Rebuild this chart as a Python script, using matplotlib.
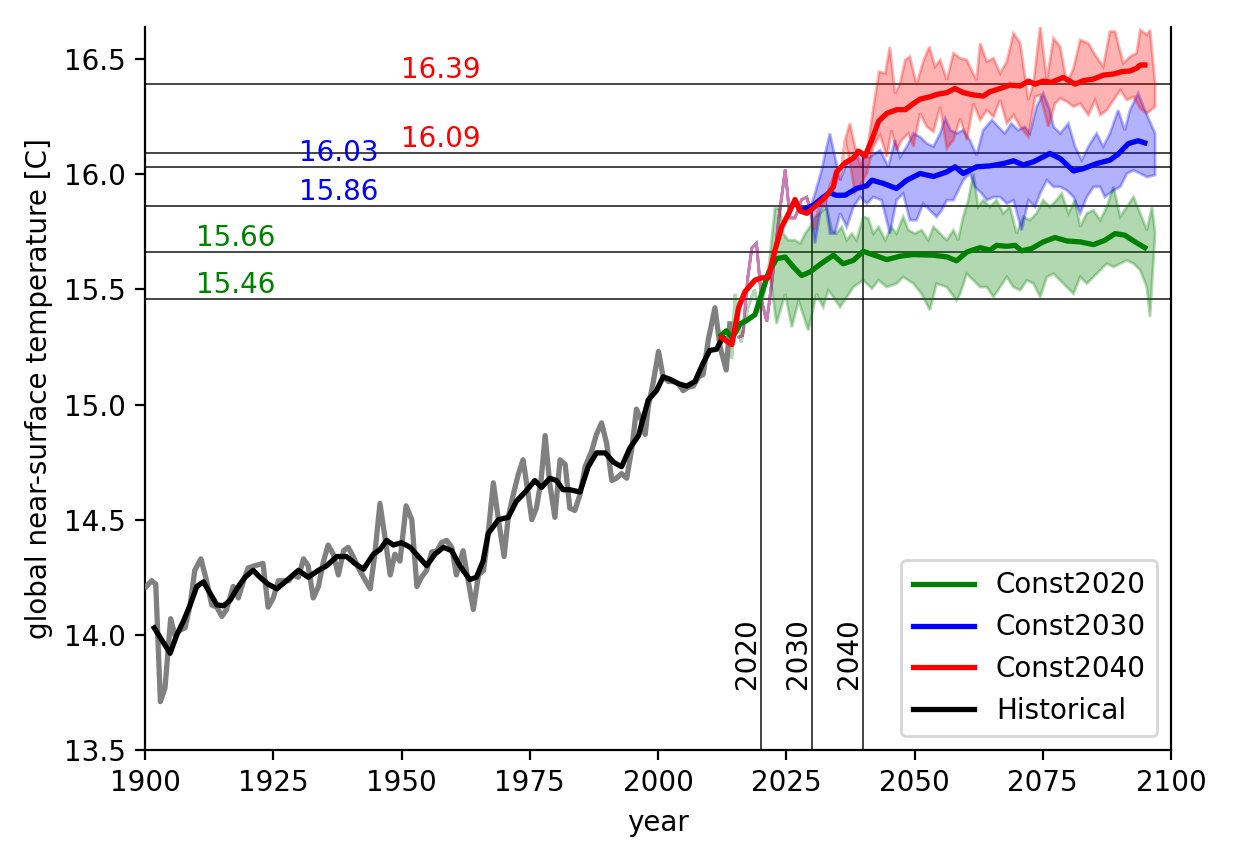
import numpy as np
import matplotlib
matplotlib.use("Agg")
import matplotlib.pyplot as plt

# ---------------- data ----------------
hist_annual_x = [1900.3, 1901.3, 1902.1, 1903.0, 1903.9, 1905.0, 1905.8, 1906.8, 1907.8, 1908.8,
                 1909.7, 1910.9, 1912.0, 1913.0, 1914.0, 1915.0, 1915.9, 1917.2, 1918.2, 1919.2,
                 1920.1, 1921.4, 1923.0, 1924.0, 1925.0, 1926.0, 1927.0, 1928.0, 1928.9, 1929.9,
                 1930.9, 1931.8, 1932.8, 1933.8, 1934.8, 1935.7, 1936.7, 1937.7, 1938.7, 1939.6,
                 1940.6, 1941.6, 1942.6, 1943.9, 1944.8, 1945.8, 1946.8, 1947.8, 1948.7, 1949.7,
                 1950.9, 1952.0, 1953.0, 1953.9, 1954.9, 1955.9, 1956.9, 1957.8, 1958.8, 1959.8,
                 1960.7, 1962.0, 1963.0, 1964.0, 1965.0, 1966.0, 1966.9, 1967.9, 1968.9, 1970.0,
                 1970.8, 1971.8, 1972.8, 1973.7, 1974.7, 1975.4, 1976.3, 1977.2, 1978.0, 1978.9,
                 1979.9, 1980.9, 1981.9, 1982.8, 1983.8, 1984.8, 1985.8, 1987.1, 1988.0, 1989.0,
                 1990.0, 1991.0, 1991.9, 1992.9, 1993.9, 1994.9, 1995.8, 1996.8, 1997.5, 1998.1,
                 1999.1, 2000.1, 2001.0, 2002.0, 2003.0, 2004.0, 2004.9, 2005.9, 2006.9, 2007.9,
                 2008.8, 2009.8, 2011.1, 2012.1, 2013.3, 2014.0]
hist_annual_y = [14.21, 14.235, 14.22, 13.71, 13.77, 14.07, 14.00, 14.02, 14.03, 14.13,
                 14.28, 14.33, 14.235, 14.13, 14.12, 14.08, 14.11, 14.21, 14.16, 14.235,
                 14.29, 14.30, 14.31, 14.12, 14.16, 14.235, 14.235, 14.235, 14.26, 14.25,
                 14.33, 14.30, 14.16, 14.21, 14.32, 14.39, 14.35, 14.26, 14.365, 14.38,
                 14.34, 14.29, 14.25, 14.20, 14.35, 14.57, 14.42, 14.26, 14.35, 14.32,
                 14.56, 14.50, 14.21, 14.25, 14.28, 14.36, 14.365, 14.40, 14.41, 14.38,
                 14.26, 14.365, 14.235, 14.11, 14.26, 14.28, 14.44, 14.66, 14.50, 14.34,
                 14.51, 14.61, 14.70, 14.76, 14.61, 14.50, 14.55, 14.67, 14.865, 14.655,
                 14.51, 14.76, 14.74, 14.55, 14.54, 14.61, 14.73, 14.80, 14.87, 14.92,
                 14.83, 14.67, 14.68, 14.70, 14.68, 14.81, 14.98, 14.93, 14.87, 14.99,
                 15.10, 15.23, 15.12, 15.10, 15.10, 15.09, 15.06, 15.075, 15.08, 15.12,
                 15.13, 15.28, 15.42, 15.25, 15.15, 15.35]

hist_smooth_x = [1901.8, 1903.2, 1904.9, 1906.2, 1907.5, 1908.8, 1910.1, 1911.4, 1912.7, 1914.0,
                 1915.3, 1916.6, 1917.9, 1919.5, 1921.1, 1922.4, 1924.0, 1925.7, 1927.6, 1929.9,
                 1931.8, 1933.8, 1935.4, 1937.4, 1939.3, 1940.9, 1942.6, 1944.5, 1945.8, 1947.1,
                 1948.4, 1950.0, 1951.7, 1953.3, 1954.9, 1956.5, 1958.2, 1959.8, 1961.1, 1962.0,
                 1963.3, 1964.6, 1965.9, 1966.9, 1968.9, 1970.8, 1972.4, 1974.1, 1976.0, 1977.3,
                 1978.9, 1980.2, 1981.5, 1982.8, 1984.8, 1986.4, 1988.0, 1989.7, 1991.3, 1992.9,
                 1994.5, 1996.2, 1998.1, 1999.7, 2001.0, 2002.3, 2004.0, 2005.6, 2007.2, 2008.8,
                 2010.1, 2011.4, 2012.6]
hist_smooth_y = [14.03, 13.98, 13.92, 14.00, 14.06, 14.13, 14.21, 14.23, 14.18, 14.13,
                 14.126, 14.15, 14.20, 14.25, 14.28, 14.25, 14.22, 14.20, 14.235, 14.28,
                 14.25, 14.28, 14.30, 14.34, 14.34, 14.31, 14.285, 14.35, 14.37, 14.41,
                 14.39, 14.40, 14.38, 14.34, 14.30, 14.35, 14.38, 14.365, 14.31, 14.28,
                 14.24, 14.25, 14.32, 14.44, 14.50, 14.51, 14.58, 14.62, 14.67, 14.64,
                 14.68, 14.67, 14.63, 14.63, 14.62, 14.73, 14.79, 14.79, 14.75, 14.73,
                 14.81, 14.865, 15.02, 15.06, 15.12, 15.11, 15.09, 15.08, 15.10, 15.18,
                 15.235, 15.24, 15.29]

# shared single-member path of Const2030 / Const2040 before branching
shared_x = [2015.5, 2016.5, 2017.5, 2018.3, 2019.2, 2020.2, 2021.2, 2022.3, 2023.5, 2024.8,
            2025.7, 2026.7, 2028.0, 2029.0, 2029.6]
shared_y = [15.29, 15.30, 15.55, 15.68, 15.70, 15.45, 15.36, 15.55, 15.80, 16.02,
            15.81, 15.81, 15.89, 15.90, 15.85]

# Const2020
c20_single_x = [2012.8, 2013.6, 2014.4, 2015.0, 2016.2, 2017.5, 2018.8, 2019.8, 2020.8, 2021.6]
c20_single_y = [15.30, 15.33, 15.20, 15.48, 15.27, 15.42, 15.50, 15.40, 15.50, 15.60]
c20_up_x = [2022.8, 2023.8, 2024.4, 2025.4, 2026.7, 2027.7, 2028.7, 2029.6, 2030.6, 2031.6,
            2032.9, 2033.9, 2034.8, 2035.8, 2036.8, 2037.8, 2038.7, 2040.0, 2041.0, 2042.0,
            2043.0, 2044.3, 2045.5, 2046.5, 2047.8, 2048.8, 2050.1, 2051.4, 2052.7, 2053.7,
            2055.0, 2056.3, 2057.6, 2058.5, 2059.5, 2060.5, 2061.5, 2062.4, 2063.4, 2064.7,
            2066.0, 2067.3, 2068.6, 2069.9, 2071.2, 2072.5, 2073.8, 2075.1, 2076.4, 2077.7,
            2078.7, 2080.0, 2081.3, 2082.3, 2083.6, 2084.9, 2086.2, 2087.5, 2088.8, 2090.1,
            2091.4, 2092.7, 2094.0, 2095.3, 2096.3, 2096.9]
c20_up_y = [15.851, 15.851, 15.742, 15.713, 15.713, 15.699, 15.742, 15.771, 15.815, 15.83,
            15.858, 15.757, 15.742, 15.771, 15.713, 15.742, 15.713, 15.815, 15.807, 15.742,
            15.771, 15.713, 15.771, 15.742, 15.815, 15.757, 15.742, 15.757, 15.713, 15.771,
            15.742, 15.713, 15.757, 15.713, 15.815, 15.887, 16.003, 15.858, 15.887, 15.858,
            15.887, 15.83, 15.858, 15.742, 15.815, 15.80, 15.83, 15.887, 15.858, 15.887,
            15.916, 15.83, 15.887, 15.771, 15.83, 15.843, 15.80, 15.858, 15.945, 15.815,
            15.858, 15.901, 15.83, 15.757, 15.858, 15.742]
c20_lo_x = [2023.1, 2024.8, 2026.1, 2027.4, 2029.3, 2030.9, 2032.2, 2033.2, 2034.2, 2035.5,
            2036.8, 2038.1, 2040.0, 2041.7, 2043.0, 2044.6, 2046.5, 2047.8, 2049.8, 2051.4,
            2053.0, 2054.3, 2056.3, 2058.2, 2058.9, 2060.2, 2061.5, 2062.8, 2064.1, 2065.4,
            2066.7, 2068.0, 2069.3, 2070.6, 2071.9, 2073.2, 2074.5, 2075.8, 2077.1, 2078.4,
            2079.7, 2081.0, 2082.3, 2083.6, 2084.9, 2086.2, 2087.5, 2088.8, 2090.1, 2091.4,
            2092.7, 2094.0, 2095.3, 2095.9]
c20_lo_y = [15.35, 15.48, 15.336, 15.452, 15.322, 15.48, 15.423, 15.496, 15.467, 15.423,
            15.467, 15.51, 15.54, 15.503, 15.54, 15.51, 15.525, 15.554, 15.525, 15.48,
            15.41, 15.525, 15.51, 15.452, 15.481, 15.568, 15.539, 15.51, 15.51, 15.467,
            15.51, 15.554, 15.51, 15.496, 15.539, 15.525, 15.467, 15.554, 15.568, 15.539,
            15.51, 15.481, 15.554, 15.525, 15.554, 15.583, 15.612, 15.597, 15.612, 15.626,
            15.612, 15.583, 15.51, 15.38]
c20_mean_x = [2012.3, 2013.3, 2014.5, 2016.0, 2017.3, 2018.9, 2020.2, 2021.5, 2023.1, 2024.8,
              2026.4, 2028.0, 2029.6, 2032.2, 2034.2, 2036.1, 2038.1, 2040.0, 2042.6, 2044.6,
              2047.2, 2049.8, 2053.7, 2056.3, 2058.2, 2060.2, 2062.8, 2064.7, 2066.0, 2068.0,
              2069.6, 2070.9, 2072.8, 2075.1, 2077.4, 2079.7, 2082.3, 2084.9, 2087.1, 2089.1,
              2091.0, 2093.0, 2094.9]
c20_mean_y = [15.30, 15.32, 15.29, 15.35, 15.365, 15.39, 15.48, 15.57, 15.633, 15.64,
              15.597, 15.56, 15.575, 15.618, 15.648, 15.611, 15.626, 15.665, 15.645, 15.629,
              15.644, 15.651, 15.648, 15.641, 15.624, 15.662, 15.681, 15.67, 15.691, 15.687,
              15.691, 15.667, 15.677, 15.706, 15.725, 15.71, 15.706, 15.694, 15.713, 15.742,
              15.735, 15.706, 15.681]

# Const2030
c30_up_x = [2030.6, 2031.9, 2032.6, 2033.5, 2034.5, 2035.5, 2036.8, 2037.8, 2038.7, 2040.0,
            2041.3, 2043.3, 2044.9, 2046.2, 2047.2, 2048.5, 2049.8, 2051.1, 2052.4, 2053.7,
            2055.0, 2056.0, 2057.0, 2058.2, 2059.5, 2060.8, 2062.1, 2063.4, 2065.1, 2066.3,
            2067.6, 2068.9, 2070.2, 2071.5, 2072.5, 2073.8, 2075.1, 2076.4, 2077.1, 2078.4,
            2080.0, 2081.3, 2082.6, 2083.9, 2085.5, 2086.8, 2088.1, 2089.7, 2091.0, 2092.0,
            2093.6, 2094.9, 2096.9]
c30_up_y = [15.916, 16.017, 16.09, 16.177, 16.075, 15.974, 16.046, 16.061, 16.104, 16.075,
            16.075, 16.104, 16.032, 16.148, 16.075, 16.12, 16.177, 16.162, 16.133, 16.12,
            16.177, 16.242, 16.191, 16.177, 16.191, 16.148, 16.082, 16.191, 16.235, 16.206,
            16.177, 16.22, 16.191, 16.206, 16.177, 16.293, 16.351, 16.278, 16.206, 16.177,
            16.22, 16.12, 16.061, 16.12, 16.177, 16.12, 16.177, 16.278, 16.191, 16.278,
            16.351, 16.278, 16.177]
c30_lo_x = [2030.6, 2031.6, 2032.6, 2033.5, 2034.5, 2035.5, 2036.8, 2038.1, 2039.4, 2040.7,
            2042.0, 2043.6, 2045.2, 2046.5, 2047.8, 2049.1, 2050.4, 2051.7, 2053.0, 2054.3,
            2055.3, 2056.3, 2057.6, 2059.5, 2060.8, 2061.8, 2063.1, 2064.1, 2065.4, 2066.7,
            2068.0, 2069.3, 2070.9, 2072.2, 2073.5, 2074.5, 2075.8, 2077.1, 2078.4, 2079.7,
            2081.0, 2082.3, 2083.6, 2084.9, 2086.2, 2087.1, 2088.8, 2090.1, 2091.4, 2092.7,
            2094.0, 2095.3, 2096.9]
c30_lo_y = [15.699, 15.83, 15.887, 15.742, 15.742, 15.83, 15.771, 15.858, 15.901, 15.872,
            15.901, 15.887, 15.742, 15.887, 15.916, 15.80, 15.80, 15.872, 15.843, 15.814,
            15.843, 15.887, 15.887, 15.974, 16.003, 15.945, 15.916, 15.887, 15.901, 15.901,
            15.872, 15.887, 15.757, 15.887, 15.858, 15.916, 15.974, 15.945, 15.945, 15.93,
            15.901, 15.83, 15.901, 15.945, 15.945, 15.901, 15.93, 15.945, 16.003, 16.017,
            16.003, 15.988, 15.996]
c30_mean_x = [2028.3, 2030.3, 2032.2, 2033.5, 2034.8, 2036.5, 2038.7, 2040.7, 2041.7, 2043.9,
              2046.5, 2048.5, 2051.1, 2053.7, 2056.3, 2057.9, 2059.5, 2062.1, 2064.7, 2067.3,
              2069.3, 2071.2, 2073.2, 2076.4, 2078.4, 2081.0, 2082.9, 2085.5, 2088.1, 2089.7,
              2091.7, 2093.6, 2094.9]
c30_mean_y = [15.846, 15.865, 15.90, 15.919, 15.908, 15.909, 15.938, 15.95, 15.974, 15.96,
              15.938, 15.974, 16.003, 15.99, 16.01, 16.032, 16.003, 16.032, 16.036, 16.046,
              16.058, 16.04, 16.054, 16.09, 16.068, 16.014, 16.024, 16.046, 16.061, 16.087,
              16.133, 16.145, 16.136]

# Const2040
c40_single_x = [2030.5, 2031.5, 2032.5, 2033.5, 2034.5, 2035.5, 2036.5]
c40_single_y = [15.76, 15.87, 15.86, 15.95, 16.00, 15.98, 16.15]
c40_up_x = [2037.4, 2038.4, 2039.4, 2040.7, 2042.0, 2043.1, 2044.3, 2045.2, 2046.2, 2047.2,
            2048.2, 2049.1, 2050.4, 2051.7, 2052.9, 2054.0, 2055.0, 2056.3, 2057.6, 2058.9,
            2060.2, 2061.1, 2062.1, 2062.8, 2064.1, 2065.4, 2066.7, 2068.0, 2069.3, 2070.6,
            2072.2, 2073.2, 2074.5, 2075.8, 2077.1, 2078.4, 2079.7, 2081.0, 2082.3, 2083.9,
            2085.2, 2086.8, 2088.1, 2089.1, 2090.7, 2092.0, 2093.3, 2094.0, 2095.3, 2095.9,
            2096.9]
c40_up_y = [16.22, 16.12, 16.04, 16.09, 16.29, 16.445, 16.437, 16.553, 16.35, 16.394,
            16.496, 16.51, 16.387, 16.489, 16.553, 16.467, 16.496, 16.409, 16.525, 16.503,
            16.496, 16.452, 16.409, 16.568, 16.489, 16.503, 16.438, 16.489, 16.612, 16.568,
            16.322, 16.394, 16.641, 16.409, 16.59, 16.553, 16.394, 16.459, 16.583, 16.568,
            16.517, 16.467, 16.619, 16.619, 16.481, 16.51, 16.525, 16.626, 16.605, 16.626,
            16.394]
c40_lo_x = [2037.4, 2038.4, 2039.4, 2040.7, 2042.0, 2043.3, 2044.6, 2045.5, 2046.5, 2047.5,
            2048.8, 2049.8, 2051.1, 2052.4, 2053.7, 2055.0, 2056.3, 2057.6, 2058.9, 2060.2,
            2061.5, 2062.8, 2064.1, 2065.4, 2066.7, 2068.0, 2069.3, 2070.6, 2072.2, 2073.5,
            2074.5, 2076.1, 2077.4, 2078.4, 2079.7, 2081.0, 2082.3, 2083.9, 2085.2, 2086.2,
            2087.5, 2088.8, 2090.1, 2091.4, 2092.7, 2094.0, 2095.3, 2096.9]
c40_lo_y = [16.05, 15.92, 15.95, 16.003, 16.12, 16.17, 16.075, 16.19, 16.104, 16.148,
            16.177, 16.12, 16.264, 16.206, 16.184, 16.293, 16.112, 16.148, 16.242, 16.148,
            16.307, 16.235, 16.278, 16.249, 16.322, 16.22, 16.257, 16.206, 16.162, 16.336,
            16.344, 16.206, 16.307, 16.329, 16.315, 16.293, 16.307, 16.257, 16.322, 16.257,
            16.278, 16.322, 16.365, 16.322, 16.336, 16.285, 16.264, 16.293]
c40_mean_x = [2012.4, 2014.4, 2015.7, 2016.95, 2018.9, 2020.2, 2021.5, 2022.8, 2024.1, 2025.7,
              2026.7, 2027.7, 2029.0, 2030.6, 2032.6, 2034.2, 2034.8, 2036.5, 2038.1, 2039.1,
              2040.4, 2041.7, 2043.0, 2044.6, 2046.5, 2048.2, 2049.8, 2051.1, 2053.0, 2054.3,
              2056.3, 2057.9, 2059.5, 2061.5, 2063.4, 2064.7, 2066.7, 2068.6, 2070.6, 2072.2,
              2073.5, 2075.1, 2076.7, 2079.0, 2081.3, 2082.9, 2084.9, 2086.8, 2088.8, 2090.4,
              2092.0, 2093.3, 2094.0, 2094.9]
c40_mean_y = [15.29, 15.26, 15.42, 15.49, 15.54, 15.55, 15.55, 15.67, 15.77, 15.84,
              15.89, 15.84, 15.83, 15.86, 15.90, 15.945, 16.01, 16.05, 16.07, 16.10,
              16.08, 16.15, 16.23, 16.264, 16.28, 16.28, 16.307, 16.326, 16.336, 16.346,
              16.354, 16.372, 16.354, 16.344, 16.339, 16.358, 16.372, 16.387, 16.383, 16.404,
              16.391, 16.404, 16.399, 16.42, 16.391, 16.406, 16.413, 16.43, 16.435, 16.445,
              16.448, 16.46, 16.474, 16.474]

# reference levels: (value, label x, colour)
level_values = [16.39, 16.09, 16.03, 15.86, 15.66, 15.46]
level_label_x = [1950, 1950, 1930, 1930, 1910, 1910]
level_colors = ["red", "red", "blue", "blue", "green", "green"]

const_years = [2020, 2030, 2040]
const_levels = [15.46, 15.86, 16.09]

series_names = ["Const2020", "Const2030", "Const2040", "Historical"]

# ---------------- figure ----------------
plt.rcParams["font.family"] = ["DejaVu Sans"]
plt.rcParams["font.size"] = 10

fig = plt.figure(figsize=(6.18, 4.24), dpi=200)
ax = fig.add_axes([145 / 1236, 98 / 848, 1026 / 1236, 723 / 848])

ymin, ymax = 13.5, 16.639
ax.set_xlim(1900, 2100)
ax.set_ylim(ymin, ymax)

LW = 1.9

# horizontal reference lines
for v in level_values:
    ax.axhline(v, color="k", lw=0.6, alpha=0.85, zorder=1)
for v, x, c in zip(level_values, level_label_x, level_colors):
    ax.text(x, v, f"{v:.2f}", color=c, va="bottom", ha="left", fontsize=10)

# vertical lines at constant-forcing years
ax.vlines(const_years, ymin, const_levels, color="k", lw=0.6, alpha=0.85, zorder=1)
for yr in const_years:
    ax.text(yr, 13.765, str(yr), rotation=90, ha="right", va="bottom", fontsize=10)


def band(ax, single_x, single_y, up_x, up_y, lo_x, lo_y, color):
    xs = np.concatenate([single_x, up_x, lo_x[::-1], single_x[::-1]])
    ys = np.concatenate([single_y, up_y, lo_y[::-1], single_y[::-1]])
    ax.fill(xs, ys, color=color, alpha=0.3, lw=1.0, zorder=2)


# historical
ax.plot(hist_annual_x, hist_annual_y, color="gray", lw=LW, zorder=3)
ax.plot(hist_smooth_x, hist_smooth_y, color="k", lw=LW, zorder=4, label=series_names[3])

# ensembles
band(ax, np.array(c20_single_x), np.array(c20_single_y), np.array(c20_up_x), np.array(c20_up_y),
     np.array(c20_lo_x), np.array(c20_lo_y), "green")
band(ax, np.array(shared_x), np.array(shared_y), np.array(c30_up_x), np.array(c30_up_y),
     np.array(c30_lo_x), np.array(c30_lo_y), "blue")
band(ax, np.array(shared_x + c40_single_x), np.array(shared_y + c40_single_y),
     np.array(c40_up_x), np.array(c40_up_y), np.array(c40_lo_x), np.array(c40_lo_y), "red")

ax.plot(c20_mean_x, c20_mean_y, color="green", lw=LW, zorder=5, label=series_names[0])
ax.plot(c30_mean_x, c30_mean_y, color="blue", lw=LW, zorder=5, label=series_names[1])
ax.plot(c40_mean_x, c40_mean_y, color="red", lw=LW, zorder=6, label=series_names[2])

handles, labels = ax.get_legend_handles_labels()
order = [labels.index(n) for n in series_names]
ax.legend([handles[i] for i in order], [labels[i] for i in order], loc="lower right",
          handlelength=2.2)

ax.set_xticks(np.arange(1900, 2101, 25))
ax.set_yticks(np.arange(13.5, 16.51, 0.5))
ax.set_xlabel("year")
ax.set_ylabel("global near-surface temperature [C]")
ax.spines["top"].set_visible(False)

fig.savefig("out.png", dpi=200)
